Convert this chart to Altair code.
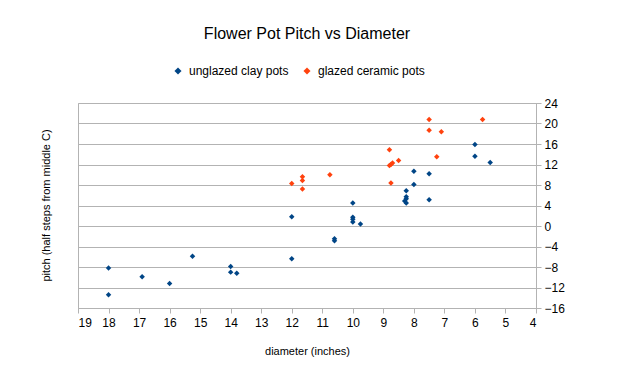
import altair as alt
import pandas as pd

unglazed_d = [18, 18, 16.9, 16, 15.25, 14, 14, 13.8, 12, 12, 10.6, 10.6, 10, 10, 10, 10, 9.75,
              8.25, 8.25, 8.25, 8.3, 8.25, 8, 8, 7.5, 7.5, 6, 6, 5.5]
unglazed_p = [-8.2, -13.4, -9.9, -11.2, -5.9, -7.9, -9.0, -9.2, -6.4, 1.8, -2.5, -2.9, 4.5, 1.7, 1.3, 0.8, 0.4,
              6.9, 5.7, 5.3, 4.9, 4.5, 10.7, 8.1, 10.2, 5.1, 15.9, 13.6, 12.4]
glazed_d = [12, 11.65, 11.65, 11.65, 10.75, 8.8, 8.5, 8.8, 8.75, 8.7, 8.75, 7.5, 7.5, 7.1, 7.25, 5.75]
glazed_p = [8.3, 9.6, 8.9, 7.2, 10.0, 14.9, 12.8, 11.8, 12.0, 12.3, 8.4, 20.8, 18.7, 18.4, 13.5, 20.8]

series = ["unglazed clay pots", "glazed ceramic pots"]
colors = ["#004586", "#ff420e"]
x_ticks = list(range(4, 20))
y_ticks = list(range(-16, 25, 4))

df = pd.DataFrame({
    "diameter": unglazed_d + glazed_d,
    "pitch": unglazed_p + glazed_p,
    "series": [series[0]] * len(unglazed_d) + [series[1]] * len(glazed_d),
})

FONT = "Liberation Sans"

chart = alt.Chart(df).mark_point(shape="diamond", filled=True, size=30, opacity=1).encode(
    x=alt.X("diameter:Q",
            scale=alt.Scale(domain=[4, 19], reverse=True, nice=False, zero=False),
            axis=alt.Axis(values=x_ticks, title="diameter (inches)", grid=False,
                          tickSize=5, labelPadding=4, titlePadding=17, format="d")),
    y=alt.Y("pitch:Q",
            scale=alt.Scale(domain=[-16, 24], nice=False, zero=False),
            axis=alt.Axis(orient="right", values=y_ticks, title="pitch (half steps from middle C)",
                          grid=True, tickSize=5, labelPadding=3,
                          titleX=-490, titleY=102, titleAngle=270, titleBaseline="middle",
                          titleAlign="center", format="d")),
    color=alt.Color("series:N", scale=alt.Scale(domain=series, range=colors),
                    sort=series,
                    legend=alt.Legend(title=None, orient="none", direction="horizontal",
                                      legendX=94, legendY=-38, symbolType="diamond",
                                      symbolSize=50, labelFontSize=12, labelOffset=5,
                                      columnPadding=12, labelFont=FONT, labelColor="#000000")),
).properties(
    width=458,
    height=205,
    title=alt.TitleParams("Flower Pot Pitch vs Diameter", fontSize=16, font=FONT,
                          fontWeight="normal", anchor="middle", offset=23, color="#000000"),
    padding={"left": 70, "top": 95, "right": 70, "bottom": 50},
    autosize=alt.AutoSizeParams(type="none"),
).configure_view(
    stroke="#b3b3b3", strokeWidth=1
).configure_axis(
    domainColor="#b3b3b3", tickColor="#b3b3b3", gridColor="#b3b3b3",
    labelFont=FONT, titleFont=FONT, labelFontSize=12, titleFontSize=11,
    labelColor="#000000", titleColor="#000000", titleFontWeight="normal",
)

chart.save("out.html", embed_options={"renderer": "svg", "actions": False})
